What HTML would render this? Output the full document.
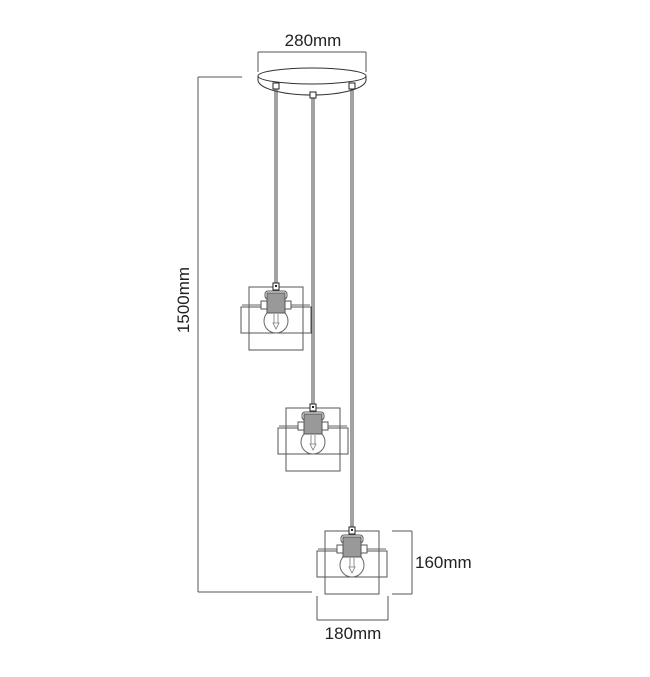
<!DOCTYPE html>
<html><head><style>
html,body{margin:0;padding:0;background:#fff;width:650px;height:677px;overflow:hidden}
svg{display:block}
text{font-family:"Liberation Sans",Arial,sans-serif;fill:#222}
</style></head><body>
<svg width="650" height="677" viewBox="0 0 650 677">
<defs>
<g id="lamp" stroke="#444" fill="none" stroke-width="1">
  <rect x="-27" y="0" width="54" height="63" fill="#fff" stroke="#555"/>
  <rect x="-35" y="20" width="70" height="26" stroke="#555"/>
  <circle cx="0" cy="34" r="12" fill="#fff" stroke="#666"/>
  <path d="M-2 27 L-2 36 L2 36 L2 27 M-3 36 L3 36 L0 42 Z" stroke="#777" stroke-width="0.8"/>
  <rect x="-11" y="4" width="22" height="8" rx="3" fill="#fff" stroke="#555"/>
  <rect x="-9" y="6" width="18" height="20" fill="#999" stroke="#555"/>
  <rect x="-15" y="14" width="6" height="8" fill="#fff" stroke="#555"/>
  <rect x="9" y="14" width="6" height="8" fill="#fff" stroke="#555"/>
  <line x1="-34" y1="18" x2="-15" y2="18" stroke="#666"/>
  <line x1="15" y1="18" x2="34" y2="18" stroke="#666"/>
  <rect x="-3" y="-4" width="6" height="7" fill="#fff" stroke="#222"/>
  <rect x="-1" y="-2" width="2" height="2" fill="#222" stroke="none"/>
</g>
</defs>
<text x="313" y="46" font-size="17" text-anchor="middle">280mm</text>
<g stroke="#555" stroke-width="1" fill="none">
<line x1="258" y1="52" x2="366" y2="52"/>
<line x1="258" y1="52" x2="258" y2="72"/>
<line x1="366" y1="52" x2="366" y2="72"/>
<path d="M258 76 A54 8 0 0 1 366 76 L366 80 A54 15 0 0 1 258 80 Z" fill="#fff" stroke="#333"/>
<path d="M258 76 A54 8 0 0 0 366 76" stroke="#333"/>
<line x1="198" y1="77" x2="242" y2="77"/>
<line x1="198" y1="77" x2="198" y2="592"/>
<line x1="198" y1="592" x2="312" y2="592"/>
<g stroke="#444">
<line x1="275" y1="86" x2="275" y2="286"/><line x1="277" y1="86" x2="277" y2="286"/>
<line x1="312" y1="96" x2="312" y2="406"/><line x1="314" y1="96" x2="314" y2="406"/>
<line x1="351" y1="86" x2="351" y2="530"/><line x1="353" y1="86" x2="353" y2="530"/>
</g>
<rect x="273" y="83" width="6" height="6" fill="#fff" stroke="#222"/>
<rect x="310" y="92" width="6" height="6" fill="#fff" stroke="#222"/>
<rect x="349" y="83" width="6" height="6" fill="#fff" stroke="#222"/>
<line x1="392" y1="531" x2="412" y2="531"/>
<line x1="392" y1="594" x2="412" y2="594"/>
<line x1="412" y1="531" x2="412" y2="594"/>
<line x1="317" y1="596" x2="317" y2="620"/>
<line x1="388" y1="596" x2="388" y2="620"/>
<line x1="317" y1="620" x2="388" y2="620"/>
</g>
<use href="#lamp" x="276" y="287"/>
<use href="#lamp" x="313" y="408"/>
<use href="#lamp" x="352" y="531"/>
<text x="0" y="0" font-size="17" text-anchor="middle" transform="translate(189,300) rotate(-90)">1500mm</text>
<text x="415" y="568" font-size="17">160mm</text>
<text x="353" y="639" font-size="17" text-anchor="middle">180mm</text>
</svg>
</body></html>
